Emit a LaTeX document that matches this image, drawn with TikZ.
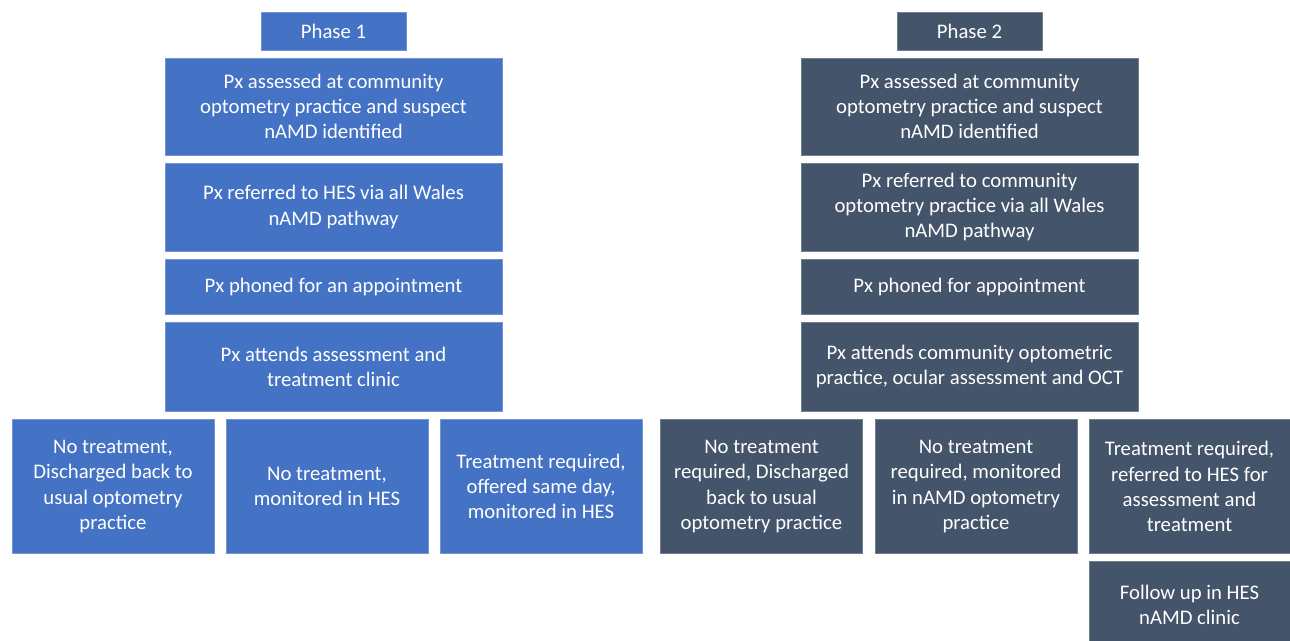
\documentclass[tikz,border=0pt]{standalone}
\usepackage{fontspec}
\setmainfont{Carlito}
\usepackage{tikz}
\definecolor{phaseone}{HTML}{4472C4}
\definecolor{phasetwo}{HTML}{44546A}
\tikzset{
  flowbox/.style={rectangle, inner sep=0pt, align=center, text=white,
    font=\fontsize{11.8}{14.3}\selectfont, line width=0.5pt},
  p1box/.style={flowbox, fill=phaseone, draw=phaseone!75!white},
  p2box/.style={flowbox, fill=phasetwo, draw=phasetwo!75!white},
  headbox/.style={minimum width=2.9cm, minimum height=0.76cm},
  widebox/.style={minimum width=6.74cm},
  endbox/.style={minimum width=4.04cm, minimum height=2.68cm}
}
\begin{document}
\begin{tikzpicture}[x=0.02cm, y=-0.02cm]
\useasboundingbox (0,0) rectangle (1290,641);
\clip (0,0) rectangle (1290,641);
% phase 1
\node[p1box, headbox] (ph1) at (333.5,31) {Phase 1};
\node[p1box, widebox, minimum height=1.94cm] (assess1) at (333.5,106.5) {Px assessed at community\\optometry practice and suspect\\nAMD identified};
\node[p1box, widebox, minimum height=1.76cm] (refer1) at (333.5,207) {Px referred to HES via all Wales\\nAMD pathway};
\node[p1box, widebox, minimum height=1.1cm] (phone1) at (333.5,286.5) {Px phoned for an appointment};
\node[p1box, widebox, minimum height=1.78cm] (attend1) at (333.5,366.5) {Px attends assessment and\\treatment clinic};
\node[p1box, endbox] (disch1) at (113,486.5) {No treatment,\\Discharged back to\\usual optometry\\practice};
\node[p1box, endbox] (monit1) at (327,486.5) {No treatment,\\monitored in HES};
\node[p1box, endbox] (treat1) at (541,486.5) {Treatment required,\\offered same day,\\monitored in HES};
% phase 2
\node[p2box, headbox] (ph2) at (969.5,31) {Phase 2};
\node[p2box, widebox, minimum height=1.94cm] (assess2) at (969.5,106.5) {Px assessed at community\\optometry practice and suspect\\nAMD identified};
\node[p2box, widebox, minimum height=1.76cm] (refer2) at (969.5,207) {Px referred to community\\optometry practice via all Wales\\nAMD pathway};
\node[p2box, widebox, minimum height=1.1cm] (phone2) at (969.5,286.5) {Px phoned for appointment};
\node[p2box, widebox, minimum height=1.78cm] (attend2) at (969.5,366.5) {Px attends community optometric\\practice, ocular assessment and OCT};
\node[p2box, endbox] (disch2) at (761.5,486.5) {No treatment\\required, Discharged\\back to usual\\optometry practice};
\node[p2box, endbox] (monit2) at (976,486.5) {No treatment\\required, monitored\\in nAMD optometry\\practice};
\node[p2box, endbox, minimum width=4.02cm] (treat2) at (1189.5,486.5) {Treatment required,\\referred to HES for\\assessment and\\treatment};
\node[p2box, minimum width=4.02cm, minimum height=1.76cm] (follow2) at (1189.5,605) {Follow up in HES\\nAMD clinic};
\end{tikzpicture}
\end{document}
